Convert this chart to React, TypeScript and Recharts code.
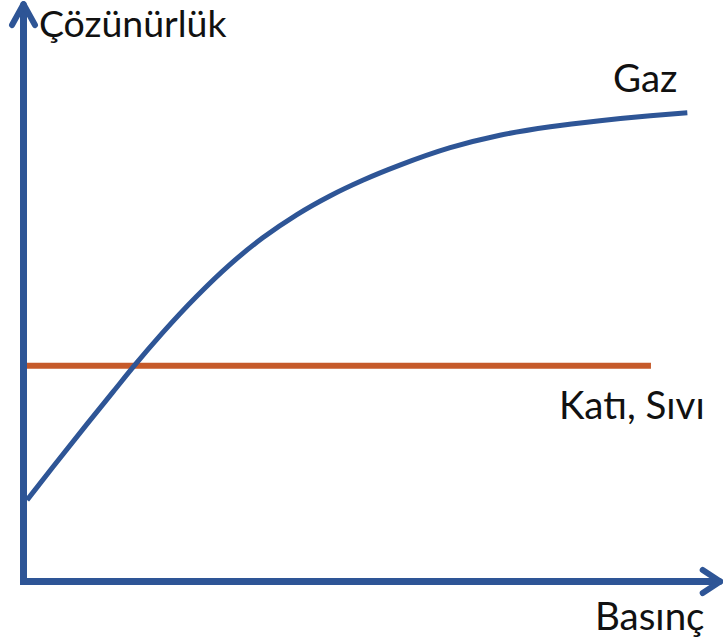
import React from 'react';
import { LineChart, Line, XAxis, YAxis, ReferenceLine, ReferenceDot } from 'recharts';

// Basınç (pressure) and gas solubility, arbitrary 0-100 units
const pressure = [0.5, 4.2, 9.1, 12.8, 15.9, 19.9, 24.8, 29.5, 34.2, 39.1, 43.8, 48.5, 53.8, 61.0, 68.1, 75.3, 82.4, 89.6, 94.9];
const gasSolubility = [14.0, 19.7, 27.1, 32.6, 37.2, 42.8, 49.1, 54.5, 59.1, 63.1, 66.3, 69.0, 71.6, 74.6, 76.75, 78.2, 79.25, 80.1, 80.6];

// solids and liquids: flat line
const solidPressure = [0, 89.7];
const solidSolubility = [37.1, 37.1];

const labels = ['Çözünürlük', 'Basınç', 'Gaz', 'Katı, Sıvı'];

const gasData = pressure.map((p, i) => ({ p, s: gasSolubility[i] }));
const solidData = solidPressure.map((p, i) => ({ p, s: solidSolubility[i] }));

const BLUE = '#2E5596';
const ORANGE = '#C65A2A';
const FONT = 'Lato, "Open Sans", sans-serif';

const labelStyle = (value: string, size = 38.5) => ({
  value,
  position: 'right' as const,
  offset: 0,
  fill: '#111',
  fontSize: size,
  fontFamily: FONT,
});

const App: React.FC = () => {
  return (
    <div style={{ position: 'absolute', left: 0, top: 0, background: '#fff' }}>
      <LineChart
        width={723}
        height={641}
        margin={{ top: 0, right: 0, left: 23.5, bottom: 59.5 }}
      >
        <XAxis type="number" dataKey="p" domain={[0, 100]} hide allowDataOverflow />
        <YAxis type="number" dataKey="s" domain={[0, 100]} hide allowDataOverflow />

        <Line
          data={solidData}
          dataKey="s"
          type="linear"
          stroke={ORANGE}
          strokeWidth={6}
          dot={false}
          isAnimationActive={false}
        />
        <Line
          data={gasData}
          dataKey="s"
          type="monotone"
          stroke={BLUE}
          strokeWidth={5}
          dot={false}
          isAnimationActive={false}
        />

        {/* axes with open arrow heads */}
        <ReferenceLine segment={[{ x: 0, y: -0.6 }, { x: 0, y: 99.2 }]} stroke={BLUE} strokeWidth={7} ifOverflow="visible" />
        <ReferenceLine segment={[{ x: -0.5, y: 0 }, { x: 99.5, y: 0 }]} stroke={BLUE} strokeWidth={7} ifOverflow="visible" />
        <ReferenceLine segment={[{ x: -1.64, y: 95.7 }, { x: 0, y: 99.3 }]} stroke={BLUE} strokeWidth={6} strokeLinecap="round" ifOverflow="visible" />
        <ReferenceLine segment={[{ x: 1.64, y: 95.7 }, { x: 0, y: 99.3 }]} stroke={BLUE} strokeWidth={6} strokeLinecap="round" ifOverflow="visible" />
        <ReferenceLine segment={[{ x: 97.1, y: 1.98 }, { x: 99.6, y: 0 }]} stroke={BLUE} strokeWidth={6} strokeLinecap="round" ifOverflow="visible" />
        <ReferenceLine segment={[{ x: 97.1, y: -1.98 }, { x: 99.6, y: 0 }]} stroke={BLUE} strokeWidth={6} strokeLinecap="round" ifOverflow="visible" />

        <ReferenceDot x={2.2} y={95.93} r={0} ifOverflow="visible" label={labelStyle(labels[0], 37.5)} />
        <ReferenceDot x={81.7} y={-5.98} r={0} ifOverflow="visible" label={labelStyle(labels[1])} />
        <ReferenceDot x={84.27} y={86.53} r={0} ifOverflow="visible" label={labelStyle(labels[2])} />
        <ReferenceDot x={76.55} y={30.3} r={0} ifOverflow="visible" label={labelStyle(labels[3])} />
      </LineChart>
    </div>
  );
};

export default App;
